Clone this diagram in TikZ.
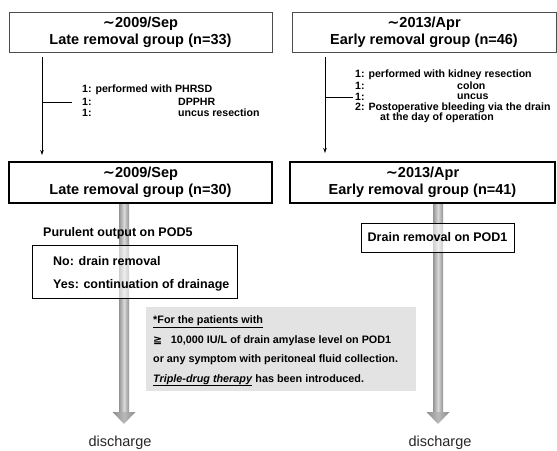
\documentclass[tikz,border=0pt]{standalone}
\usepackage{fontspec}
\setmainfont{Liberation Sans}
\newfontfamily\dejavu{DejaVu Sans}
\usetikzlibrary{arrows.meta}
\newcommand\grayarrow[3]{%
  \shade[left color=gray!85, right color=gray!85, middle color=gray!30] (#1-5,#2) rectangle (#1+5,#3-12);
  \shade[left color=gray!90, right color=gray!90, middle color=gray!55] (#1-11.5,#3-12) -- (#1+11.5,#3-12) -- (#1,#3) -- cycle;
}
\begin{document}
\begin{tikzpicture}[x=1pt,y=-1pt,
  hdrbox/.style={draw=black!70, line width=0.8pt, minimum height=40pt, align=center, inner sep=0pt,
    font=\bfseries\fontsize{14.5}{17}\selectfont},
  hdrboxb/.style={hdrbox, draw=black, line width=1.2pt, minimum height=41pt},
  smalltxt/.style={font=\bfseries\fontsize{10.6}{11}\selectfont, anchor=west, inner sep=0pt},
  midtxt/.style={font=\bfseries\fontsize{12.5}{15}\selectfont, inner sep=0pt},
  thinline/.style={line width=1pt, black},
  thinarrow/.style={thinline, -{Stealth[length=5pt,width=3.5pt]}},
  disch/.style={font=\fontsize{14.5}{16}\selectfont, text=black!85, inner sep=0pt}
]
\useasboundingbox (0,0) rectangle (557,450);

% gray thick arrows (drawn first)
\node[disch] (dl) at (120,443) {discharge};
\node[disch] (dr) at (440,443) {discharge};
\grayarrow{124}{204}{424}
\grayarrow{438}{204}{424}

% header boxes
\node[hdrbox, minimum width=263pt] (tl) at (140.5,32) {{\dejavu\bfseries ∼}2009/Sep\\Late removal group\hspace{0.3em}(n=33)};
\node[hdrbox, minimum width=264pt] (tr) at (424,32) {{\dejavu\bfseries ∼}2013/Apr\\Early removal group\hspace{0.3em}(n=46)};
\node[hdrboxb, minimum width=263pt] (bl) at (140.5,182.5) {{\dejavu\bfseries ∼}2009/Sep\\Late removal group\hspace{0.3em}(n=30)};
\node[hdrboxb, minimum width=265pt] (br) at (422.5,182.5) {{\dejavu\bfseries ∼}2013/Apr\\Early removal group\hspace{0.3em}(n=41)};

% thin arrows with branches
\coordinate (la1) at (42,57);
\coordinate (la2) at (42,155);
\coordinate (lb1) at (42,102);
\coordinate (lb2) at (72,102);
\coordinate (ra1) at (325,57);
\coordinate (ra2) at (325,153);
\coordinate (rb1) at (325,97);
\coordinate (rb2) at (353,97);
\draw[thinarrow] (la1) -- (la2);
\draw[thinline] (lb1) -- (lb2);
\draw[thinarrow] (ra1) -- (ra2);
\draw[thinline] (rb1) -- (rb2);

% left exclusion texts
\node[smalltxt] (l1) at (82,90) {1: performed with PHRSD};
\node[smalltxt] (l2a) at (82,102) {1:};
\node[smalltxt] (l2b) at (178,102) {DPPHR};
\node[smalltxt] (l3a) at (82,113) {1:};
\node[smalltxt] (l3b) at (178,113) {uncus resection};

% right exclusion texts
\node[smalltxt] (r1) at (355,75) {1: performed with kidney resection};
\node[smalltxt] (r2a) at (355,86) {1:};
\node[smalltxt] (r2b) at (457,86) {colon};
\node[smalltxt] (r3a) at (355,97) {1:};
\node[smalltxt] (r3b) at (457,97) {uncus};
\node[smalltxt] (r4) at (355,107.5) {2: Postoperative bleeding via the drain};
\node[smalltxt] (r5) at (380,118) {at the day of operation};

% left lower part
\node[midtxt, anchor=west] (pur) at (43,233) {Purulent output on POD5};
\node[draw=black, line width=1pt, fill=white, fill opacity=0.55, minimum width=205pt, minimum height=53pt, inner sep=0pt] (yn) at (134.5,271.5) {};
\node[midtxt, anchor=west, align=left, font=\bfseries\fontsize{12.5}{23}\selectfont] (yntxt) at (53,273.5) {No: drain removal\\Yes: continuation of drainage};

% right lower part
\node[midtxt, draw=black, line width=1pt, fill=white, fill opacity=0.55, text opacity=1, minimum width=153pt, minimum height=29pt] (drm) at (437.5,237.5) {Drain removal on POD1};

% note box
\node[fill=gray!22, minimum width=270pt, minimum height=84pt, inner sep=0pt] (notebg) at (281,349) {};
\node[anchor=west, align=left, inner sep=0pt, font=\bfseries\fontsize{10.8}{19.5}\selectfont] (note) at (153,351)
  {\underline{*For the patients with}\\
   {\dejavu\bfseries ≧}\hspace{0.8em}10,000 IU/L of drain amylase level on POD1\\
   or any symptom with peritoneal fluid collection.\\
   \underline{\textit{Triple-drug therapy}} has been introduced.};
\end{tikzpicture}
\end{document}
